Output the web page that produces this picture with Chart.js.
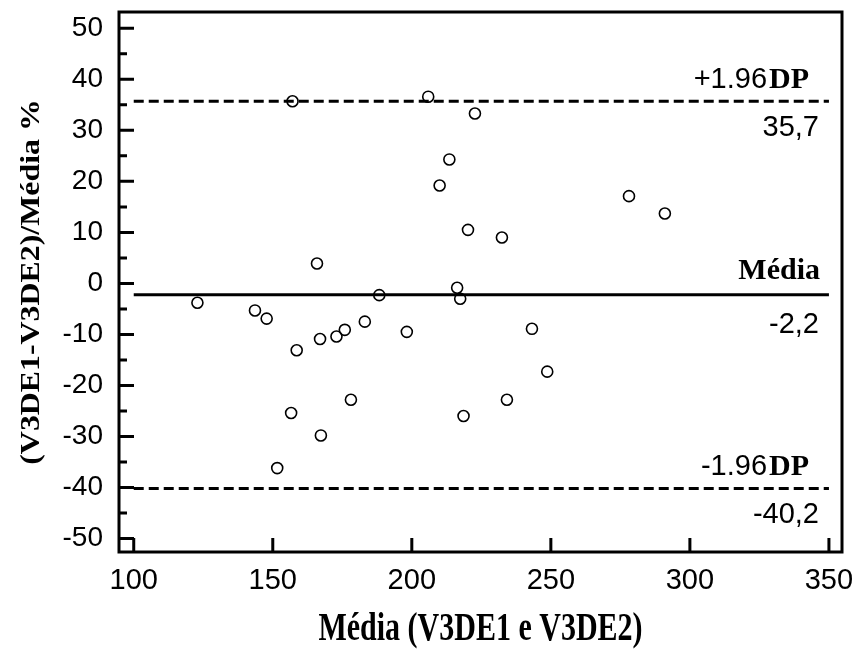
<!DOCTYPE html>
<html>
<head>
<meta charset="utf-8">
<script src="https://cdn.jsdelivr.net/npm/chart.js@4.4.1/dist/chart.umd.min.js"></script>
<style>
  html, body { margin: 0; padding: 0; background: #fff; }
  #wrap { width: 858px; height: 649px; }
</style>
</head>
<body>
<div id="wrap"><canvas id="bland" width="858" height="649"></canvas></div>
<script>
// Bland-Altman: mean of the two measures vs difference in %
const meanValues  = [157.1, 205.9, 222.7, 213.5, 210.0, 220.2, 165.9, 188.3, 216.3, 217.4,
                     232.4, 278.1, 291.0, 122.9, 143.6, 147.8, 158.6, 167.0, 172.9, 175.9,
                     183.1, 198.2, 156.6, 167.3, 178.1, 151.6, 218.6, 243.2, 248.7, 234.2];
const diffPercent = [35.7, 36.6, 33.3, 24.3, 19.2, 10.5, 3.9, -2.3, -0.85, -3.0,
                     9.0, 17.1, 13.7, -3.8, -5.3, -6.9, -13.1, -10.9, -10.4, -9.1,
                     -7.5, -9.5, -25.4, -29.8, -22.8, -36.2, -26.0, -8.9, -17.3, -22.8];

const xTicks = [100, 150, 200, 250, 300, 350];
const yTicks = [-50, -40, -30, -20, -10, 0, 10, 20, 30, 40, 50];
const yMinorTicks = [-45, -35, -25, -15, -5, 5, 15, 25, 35, 45];

const limitValues = [35.7, -2.2, -40.2];
const limitNames  = ['+1.96DP', 'Média', '-1.96DP'];
const limitTexts  = ['35,7', '-2,2', '-40,2'];
const limitRange  = [100, 350];

const xTitle = 'Média (V3DE1 e V3DE2)';
const yTitle = '(V3DE1-V3DE2)/Média %';

const SANS = '"Liberation Sans", Arial, sans-serif';
const SERIF = '"Liberation Serif", "Times New Roman", serif';
const INK = '#000';

const limitLine = (v, dashed) => ({
    type: 'line',
    data: limitRange.map(x => ({ x: x, y: v })),
    borderColor: '#000',
    borderWidth: 3,
    borderDash: dashed ? [10, 5] : [],
    pointRadius: 0,
    fill: false,
    tension: 0,
});

// frame box and the inward tick marks
const framePlugin = {
    id: 'frame',
    afterDatasetsDraw(chart) {
        const { ctx, chartArea: a, scales: { x, y } } = chart;
        ctx.save();
        ctx.strokeStyle = '#000';
        ctx.lineWidth = 3;
        ctx.lineCap = 'butt';
        ctx.strokeRect(a.left, a.top, a.right - a.left, a.bottom - a.top);
        ctx.beginPath();
        yTicks.forEach(v => {
            const py = y.getPixelForValue(v);
            ctx.moveTo(a.left, py);
            ctx.lineTo(a.left + 15, py);
        });
        yMinorTicks.forEach(v => {
            const py = y.getPixelForValue(v);
            ctx.moveTo(a.left, py);
            ctx.lineTo(a.left + 8, py);
        });
        xTicks.forEach(v => {
            const px = x.getPixelForValue(v);
            ctx.moveTo(px, a.bottom);
            ctx.lineTo(px, a.bottom - 14);
        });
        ctx.stroke();
        ctx.restore();
    }
};

// names and values of the limit lines, plus the axis titles
const textPlugin = {
    id: 'texts',
    afterDraw(chart) {
        const { ctx, chartArea: a, scales: { y } } = chart;
        ctx.save();
        ctx.fillStyle = INK;
        ctx.textBaseline = 'alphabetic';
        limitValues.forEach((v, i) => {
            const py = y.getPixelForValue(v);
            const isMean = i === 1;
            const m = limitNames[i].match(/^([-+][\d.]+)(.*)$/);
            ctx.textAlign = 'right';
            if (m) {
                const nameRight = a.right - 33;
                ctx.font = 'bold 30px ' + SERIF;
                ctx.fillText(m[2], nameRight, py - 13);
                const w = ctx.measureText(m[2]).width;
                ctx.font = '29px ' + SANS;
                ctx.fillText(m[1], nameRight - w - 2, py - 13);
            } else {
                ctx.font = 'bold 30px ' + SERIF;
                ctx.fillText(limitNames[i], a.right - 22, py - 16);
            }
            ctx.font = '29px ' + SANS;
            ctx.fillText(limitTexts[i], a.right - 23, py + (isMean ? 38 : 35));
        });

        // x title, condensed serif look
        ctx.save();
        ctx.translate((a.left + a.right) / 2, 640);
        ctx.scale(1, 1.32);
        ctx.font = 'bold 30px ' + SERIF;
        ctx.textAlign = 'center';
        ctx.fillText(xTitle, 0, 0);
        ctx.restore();

        // y title
        ctx.save();
        ctx.translate(32, (a.top + a.bottom) / 2);
        ctx.rotate(-Math.PI / 2);
        ctx.scale(1.18, 1);
        ctx.font = 'bold 27px ' + SERIF;
        ctx.textAlign = 'center';
        ctx.textBaseline = 'middle';
        ctx.fillText(yTitle, 0, 0);
        ctx.restore();

        ctx.restore();
    }
};

new Chart(document.getElementById('bland'), {
    type: 'scatter',
    data: {
        datasets: [
            limitLine(limitValues[0], true),
            limitLine(limitValues[1], false),
            limitLine(limitValues[2], true),
            {
                label: 'pontos',
                data: meanValues.map((m, i) => ({ x: m, y: diffPercent[i] })),
                pointStyle: 'circle',
                pointRadius: 5.5,
                pointBorderWidth: 1.6,
                pointBorderColor: '#000',
                pointBackgroundColor: 'rgba(255,255,255,0)',
            }
        ]
    },
    options: {
        responsive: false,
        animation: false,
        layout: { padding: { top: 12, right: 16, left: 0, bottom: 0 } },
        plugins: {
            legend: { display: false },
            tooltip: { enabled: false },
        },
        scales: {
            x: {
                type: 'linear',
                min: 94.7,
                max: 354.7,
                afterBuildTicks: s => { s.ticks = xTicks.map(v => ({ value: v })); },
                afterFit: s => { s.height = 97; s.paddingLeft = 0; s.paddingRight = 0; },
                ticks: {
                    color: INK,
                    font: { family: SANS, size: 29 },
                    padding: 12,
                    maxRotation: 0,
                    autoSkip: false,
                },
                grid: { display: false, drawTicks: false },
                border: { display: false },
            },
            y: {
                type: 'linear',
                min: -52.65,
                max: 53.2,
                afterBuildTicks: s => { s.ticks = yTicks.map(v => ({ value: v })); },
                afterFit: s => { s.width = 119; s.paddingTop = 0; s.paddingBottom = 0; },
                ticks: {
                    color: INK,
                    font: { family: SANS, size: 28 },
                    padding: 16,
                    autoSkip: false,
                },
                grid: { display: false, drawTicks: false },
                border: { display: false },
            }
        }
    },
    plugins: [framePlugin, textPlugin]
});
</script>
</body>
</html>
